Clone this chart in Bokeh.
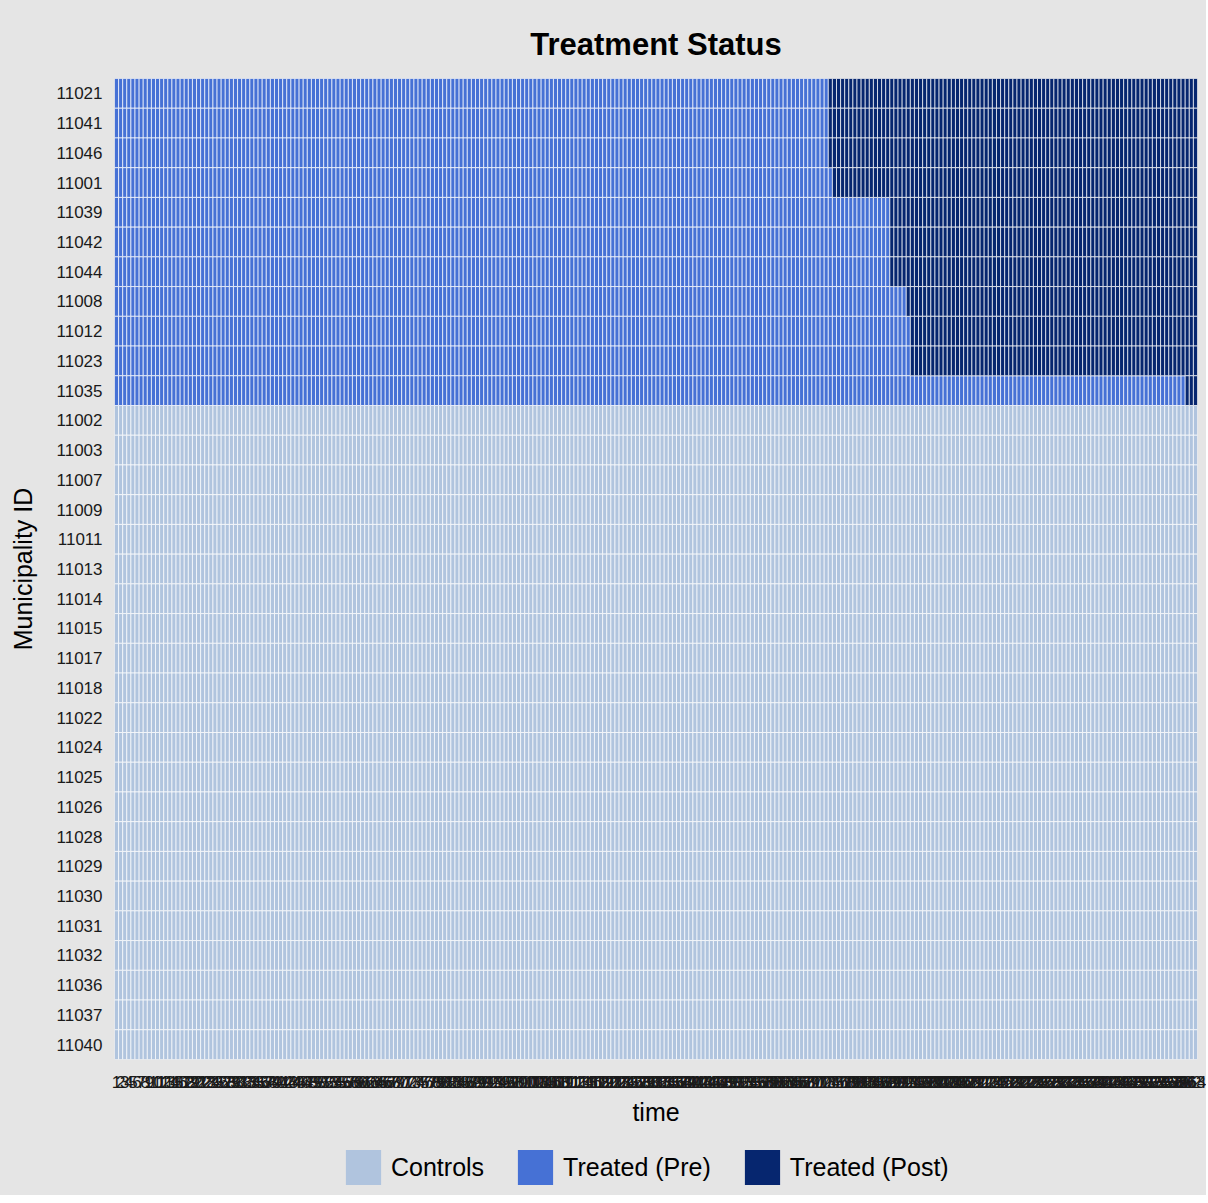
from bokeh.plotting import figure
from bokeh.layouts import column
from bokeh.models import ColumnDataSource, FactorRange, Range1d, FixedTicker, Legend, LegendItem
from bokeh.embed import file_html
from bokeh.resources import INLINE

# ---- data ----
units = ["11021", "11041", "11046", "11001", "11039", "11042", "11044", "11008", "11012",
         "11023", "11035", "11002", "11003", "11007", "11009", "11011", "11013", "11014",
         "11015", "11017", "11018", "11022", "11024", "11025", "11026", "11028", "11029",
         "11030", "11031", "11032", "11036", "11037", "11040"]
# first post-treatment period per unit (None = never treated / control)
first_treated = [175, 175, 175, 176, 190, 190, 190, 194, 195, 195, 262,
                 None, None, None, None, None, None, None, None, None, None, None,
                 None, None, None, None, None, None, None, None, None, None, None]
n_periods = 264
times = list(range(1, n_periods + 1))
status_labels = ["Controls", "Treated (Pre)", "Treated (Post)"]
status_colors = ["#B0C4DE", "#4671D5", "#06266F"]

FONT = "Liberation Sans"
BG = "#E5E5E5"

cells = {s: {"x": [], "y": []} for s in status_labels}
for u, ft in zip(units, first_treated):
    for t in times:
        if ft is None:
            s = "Controls"
        elif t < ft:
            s = "Treated (Pre)"
        else:
            s = "Treated (Post)"
        cells[s]["x"].append(t)
        cells[s]["y"].append(u)

p = figure(frame_width=1083, frame_height=981,
           x_range=Range1d(0.5, n_periods + 0.5),
           y_range=FactorRange(factors=list(reversed(units))),
           output_backend="svg", toolbar_location=None,
           min_border_left=114, min_border_right=9, min_border_top=78, min_border_bottom=76,
           background_fill_color=BG, border_fill_color=BG, outline_line_color=None)

for s, c in zip(status_labels, status_colors):
    src = ColumnDataSource(cells[s])
    p.rect(x="x", y="y", width=1, height=1, source=src, fill_color=c,
           line_color="white", line_width=0.7)

p.grid.visible = False

p.title.text = "Treatment Status"
p.title.align = "center"
p.title.text_font = FONT
p.title.text_font_size = "31px"
p.title.text_font_style = "bold"
p.title.text_color = "black"
p.title.standoff = 34

xa = p.xaxis[0]
xa.ticker = FixedTicker(ticks=times)
xa.axis_label = "time"
for ax in (p.xaxis[0], p.yaxis[0]):
    ax.axis_line_color = None
    ax.major_tick_line_color = None
    ax.minor_tick_line_color = None
    ax.major_label_text_font = FONT
    ax.major_label_text_font_size = "17px"
    ax.major_label_text_color = "#1a1a1a"
    ax.axis_label_text_font = FONT
    ax.axis_label_text_font_size = "25px"
    ax.axis_label_text_font_style = "normal"
    ax.axis_label_text_color = "black"
xa.major_label_standoff = 10
xa.axis_label_standoff = 7
ya = p.yaxis[0]
ya.axis_label = "Municipality ID"
ya.major_label_standoff = 6
ya.axis_label_standoff = 16

# ---- legend strip (swatch renderers sit outside the visible range) ----
p2 = figure(width=1206, height=60, x_axis_type=None, y_axis_type=None,
            x_range=Range1d(0, 1), y_range=Range1d(0, 1),
            output_backend="svg", toolbar_location=None, min_border=0,
            background_fill_color=BG, border_fill_color=BG, outline_line_color=None)
p2.grid.visible = False
items = []
for s, c in zip(status_labels, status_colors):
    r = p2.rect(x=[-5], y=[-5], width=1, height=1, fill_color=c, line_color=None)
    items.append(LegendItem(label=s, renderers=[r]))
legend = Legend(items=items, orientation="horizontal", location=(227, 6),
                glyph_width=44, glyph_height=44, label_standoff=6, spacing=29,
                label_text_font=FONT, label_text_font_size="25px", label_text_color="black",
                background_fill_alpha=0, border_line_color=None, padding=0, margin=0)
p2.add_layout(legend, "center")

layout = column(p, p2, spacing=0, styles={"background-color": BG})
open("out.html", "w").write(file_html(layout, INLINE))
